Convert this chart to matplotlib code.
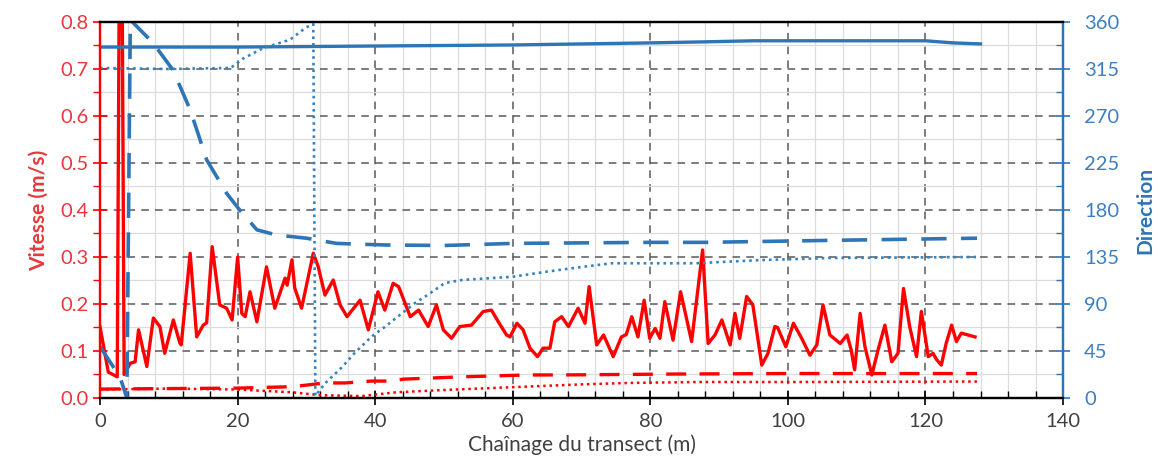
import matplotlib
matplotlib.use('Agg')
import matplotlib.pyplot as plt
from matplotlib.ticker import MultipleLocator

plt.rcParams['font.family'] = ['Lato', 'DejaVu Sans']

# vitesse instantanee (m/s)
v_x = [0, 1.2, 2.5, 3.0, 3.5, 4.4, 5.1, 5.6, 6.8, 7.75, 8.7, 9.4, 10.65, 11.6, 11.8,
       13.1, 14.05, 15.0, 15.5, 16.3, 17.4, 18.4, 19.2, 20.0, 20.6, 21.1, 21.8, 22.8,
       24.2, 25.4, 26.9, 27.2, 27.9, 28.3, 29.3, 31.0, 31.7, 32.7, 33.9, 34.9, 35.9,
       37.8, 39.0, 40.4, 41.4, 42.6, 43.4, 45.1, 46.3, 47.7, 48.9, 49.9, 51.1, 52.3,
       54.0, 55.7, 56.9, 57.9, 59.1, 59.6, 60.6, 61.5, 62.5, 63.6, 64.4, 65.4, 66.1,
       67.1, 68.1, 69.5, 70.5, 71.1, 72.2, 73.2, 74.6, 75.8, 76.5, 77.3, 78.2, 79.1,
       79.9, 80.7, 81.4, 82.1, 83.3, 84.4, 86.0, 87.6, 88.4, 89.4, 90.4, 91.6, 92.3,
       93.0, 94.0, 94.9, 96.2, 97.1, 98.1, 98.5, 99.7, 100.8, 102.0, 103.2, 104.2,
       105.1, 106.1, 107.6, 108.6, 109.2, 109.7, 110.5, 111.2, 112.2, 113.1, 114.1,
       115.1, 116.0, 116.8, 117.7, 118.7, 119.4, 120.4, 121.1, 121.6, 122.3, 123.0,
       123.8, 124.5, 125.2, 126.2, 127.2]
v_val = [0.151, 0.055, 0.045, 1.5, 0.05, 0.074, 0.077, 0.145, 0.067, 0.170, 0.152, 0.095,
         0.166, 0.117, 0.113, 0.308, 0.130, 0.155, 0.160, 0.322, 0.198, 0.191, 0.166,
         0.300, 0.180, 0.173, 0.226, 0.162, 0.279, 0.191, 0.255, 0.240, 0.294, 0.234,
         0.191, 0.308, 0.280, 0.219, 0.251, 0.198, 0.173, 0.208, 0.145, 0.226, 0.187,
         0.244, 0.237, 0.173, 0.187, 0.152, 0.198, 0.145, 0.127, 0.152, 0.155, 0.184,
         0.187, 0.162, 0.134, 0.130, 0.159, 0.145, 0.106, 0.088, 0.106, 0.106, 0.162,
         0.173, 0.152, 0.191, 0.159, 0.237, 0.113, 0.134, 0.088, 0.130, 0.135, 0.173,
         0.130, 0.208, 0.127, 0.148, 0.127, 0.205, 0.123, 0.226, 0.120, 0.315, 0.116,
         0.134, 0.166, 0.113, 0.180, 0.127, 0.216, 0.198, 0.070, 0.095, 0.152, 0.150,
         0.109, 0.159, 0.127, 0.091, 0.113, 0.198, 0.134, 0.116, 0.134, 0.102, 0.060,
         0.180, 0.109, 0.049, 0.102, 0.155, 0.077, 0.095, 0.233, 0.152, 0.088, 0.184,
         0.088, 0.095, 0.082, 0.070, 0.116, 0.155, 0.120, 0.138, 0.134, 0.130]

# vitesse moyenne (tirets) et ecart (pointilles)
vm_x = [0, 10, 20, 28, 32.7, 35.6, 39.5, 42.4, 44, 52.6, 62.2, 67, 84, 100, 127.5]
vm_val = [0.019, 0.020, 0.021, 0.024, 0.032, 0.032, 0.036, 0.036, 0.040, 0.045, 0.049,
          0.049, 0.051, 0.052, 0.052]
vd_x = [0, 10, 20, 28, 32, 38, 43, 50, 60, 70, 77, 87, 100, 127.5]
vd_val = [0.018, 0.020, 0.018, 0.012, 0.006, 0.004, 0.012, 0.017, 0.023, 0.029, 0.032,
          0.034, 0.034, 0.035]

# direction (degres)
d_x = [0, 20, 40, 60, 80, 88, 95, 110, 120, 124, 128]
d_val = [336, 336, 337, 338, 340, 341, 342, 342, 342, 340, 339]
dm_x = [0, 2.9, 3.9, 4.4, 7.7, 10.6, 13.1, 15.5, 18.4, 20.3, 22.8, 25.7, 30, 34.4, 41.4,
        50, 60, 80, 88, 107, 127.5]
dm_val = [49, 20, 0, 362, 340, 314, 276, 228, 196, 180, 161, 156, 153, 148, 146.5, 146,
          148, 149, 149, 151, 153]
dd_x = [0, 10, 19, 20.8, 23.7, 27.6, 30, 31.0, 31.3, 32.7, 35.1, 37, 39.5, 41.4, 43.3,
        45.8, 47.7, 50.1, 52.6, 57.4, 59.9, 65, 69.5, 74.4, 79.2, 86.5, 96, 106, 127.5]
dd_val = [316, 315, 316, 325, 335, 343, 355, 358, 2, 14, 29, 43, 59, 68, 78, 91, 99, 110,
          113, 115, 116, 121, 125, 129, 129, 129, 132, 134, 135]

red = '#ff0000'
blue = '#2e75b6'
dark = '#404040'

fig = plt.figure(figsize=(11.54, 4.73), dpi=100)
ax = fig.add_axes([0.0867, 0.1586, 0.8345, 0.7949])
ax2 = ax.twinx()

ax.plot(v_x, v_val, color=red, lw=2.4, solid_joinstyle='round')
ax.plot(vm_x, vm_val, color=red, lw=2.4, dashes=(6, 4))
ax.plot(vd_x, vd_val, color=red, lw=1.8, dashes=(1, 1.5))

ax2.plot(d_x, d_val, color=blue, lw=2.4)
ax2.plot(dm_x, dm_val, color=blue, lw=2.6, dashes=(7, 4))
ax2.plot(dd_x, dd_val, color='#3583bf', lw=1.9, dashes=(1, 1.5))

ax.set_xlim(0, 140)
ax.set_ylim(0, 0.8)
ax2.set_ylim(0, 360)

ax.xaxis.set_major_locator(MultipleLocator(20))
ax.xaxis.set_minor_locator(MultipleLocator(4))
ax.yaxis.set_major_locator(MultipleLocator(0.1))
ax.yaxis.set_minor_locator(MultipleLocator(0.05))
ax2.yaxis.set_major_locator(MultipleLocator(45))
ax2.yaxis.set_minor_locator(MultipleLocator(22.5))
ax.yaxis.set_major_formatter(lambda v, p: f'{v:.1f}')

ax.grid(which='minor', color='#dcdcdc', lw=0.9, ls='-')
ax.grid(which='major', color='#595959', lw=1.1, ls=(0, (5, 4)))
ax.set_axisbelow(True)

ax.tick_params(axis='x', which='major', direction='inout', length=10, width=1.2,
               labelsize=14.5, labelcolor=dark, color='black', pad=6)
ax.tick_params(axis='x', which='minor', direction='in', length=5, width=1, color='black')
ax.tick_params(axis='y', which='major', direction='inout', length=10, width=1.2,
               labelsize=14.5, labelcolor='#e8383d', color=red)
ax.tick_params(axis='y', which='minor', direction='out', length=5, width=1, color=red)
ax2.tick_params(axis='y', which='major', direction='inout', length=10, width=1.2,
                labelsize=14.5, labelcolor='#3d7fc0', color=blue, pad=10)
ax2.tick_params(axis='y', which='minor', direction='in', length=5, width=1, color=blue)

for a in (ax, ax2):
    a.spines['left'].set_color(red)
    a.spines['right'].set_color(blue)
    a.spines['top'].set_color('black')
    a.spines['bottom'].set_color('black')
    for s in a.spines.values():
        s.set_linewidth(1.6)

ax.set_xlabel('Chaînage du transect (m)', fontsize=15, color=dark, labelpad=3)
ax.set_ylabel('Vitesse (m/s)', fontsize=15, color='#e8383d', fontweight='bold', labelpad=8)
ax2.set_ylabel('Direction', fontsize=15, color=blue, fontweight='bold', labelpad=12)

fig.savefig('out.png', dpi=100)
